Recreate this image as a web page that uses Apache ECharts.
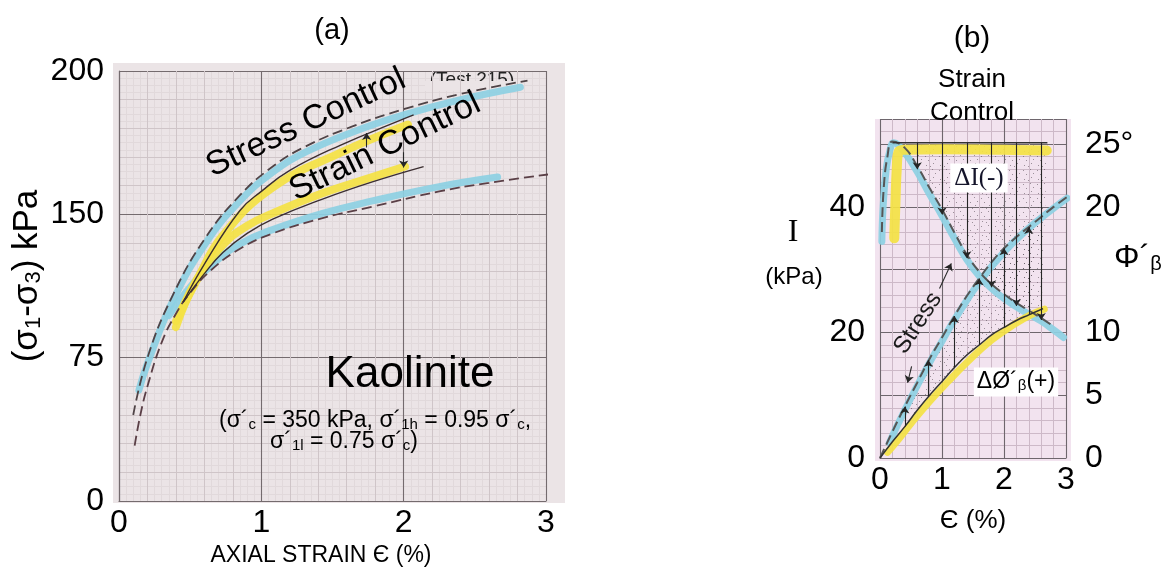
<!DOCTYPE html>
<html>
<head>
<meta charset="utf-8">
<script src="https://cdn.jsdelivr.net/npm/echarts@6/dist/echarts.min.js"></script>
<style>
  html, body { margin: 0; padding: 0; background: #ffffff; }
  #chart { width: 1175px; height: 570px; }
</style>
</head>
<body>
<div id="chart"></div>
<script>
// ---------- Panel (a): deviator stress vs axial strain (kaolinite) ----------
const strainTicksA = ['0', '1', '2', '3'];
const stressTicksA = ['0', '75', '150', '200'];

// [axial strain %, deviator stress kPa]
const stressCtrlHigh = [[0.1,45],[0.2,75],[0.38,108],[0.61,138],[0.85,160],[1.08,175],[1.31,185.5],[1.64,196],[2.0,205],[2.4,213],[2.87,220]];
const stressCtrlHighBand = [[0.14,58],[0.2,72],[0.38,105],[0.61,135],[0.85,157],[1.08,172],[1.31,182.5],[1.64,193],[2.0,202],[2.4,210],[2.82,216.5]];
const strainCtrlHigh = [[0.45,104],[0.6,124],[0.85,152],[1.0,162],[1.2,173],[1.55,186],[1.97,199],[2.07,202]];
const strainCtrlHighBand = [[0.4,94],[0.55,116],[0.73,139],[1.08,164],[1.55,182],[2.03,197]];
const strainCtrlLow = [[0.45,104],[0.6,119],[0.73,130],[0.9,140],[1.08,147.5],[1.43,158],[1.78,167],[2.14,175]];
const strainCtrlLowBand = [[0.4,91],[0.54,115],[0.73,134],[0.9,144],[1.08,150.5],[1.43,161],[1.78,169.5],[2.01,175]];
const stressCtrlLow = [[0.11,29],[0.15,45],[0.2,60],[0.3,83],[0.4,98],[0.5,109],[0.65,121],[0.85,132],[1.08,140],[1.43,148],[1.78,154],[2.25,162],[2.6,166.5],[3.03,171]];
const stressCtrlLowBand = [[0.35,97],[0.5,112],[0.65,123.5],[0.85,134.5],[1.08,142],[1.43,150.5],[1.78,157],[2.25,164.5],[2.66,169.5]];
// pointer arrows from the "Strain Control" label: [strain, from kPa, to kPa]
const labelArrowsA = [[1.74,185,192.5],[2.0,182.5,174.5]];

// ---------- Panel (b): I and mobilised friction angle vs strain ----------
const iTickLabels = ['0', '', '20', '', '40', ''];
const phiTickLabels = ['0', '5', '10', '', '20', '25°'];

// I (kPa)
const iStressLine = [[0.03,36],[0.06,43],[0.12,48],[0.2,50.4],[0.4,49.4],[0.6,46.5],[0.8,43],[1.0,39.6],[1.2,35.9],[1.4,32.4],[1.6,29.7],[1.8,27.7],[2.0,26.1],[2.2,24.7],[2.4,23.5],[2.6,22.3],[2.78,21.1]];
const iStressBand = [[0.03,34.5],[0.05,40],[0.1,46],[0.16,49],[0.22,50.2],[0.4,48.6],[0.6,45.6],[0.8,42],[1.0,38.6],[1.2,35],[1.4,31.6],[1.6,29],[1.8,27],[2.0,25.4],[2.2,24.1],[2.4,22.9],[2.6,21.8],[2.8,20.4],[2.96,19.2]];
const iStrainLine = [[0.2,50.2],[2.7,50.2]];
const iStrainBand = [[0.23,35],[0.25,41],[0.27,46],[0.3,48.8],[0.4,49.1],[1.0,49.2],[2.0,49.1],[2.69,49.0]];
// ΔI arrows: [strain, from kPa, to kPa]
const iArrows = [[0.6,50.2,46],[1.0,50.2,38.8],[1.4,50.2,31.8],[1.8,50.2,27.2],[2.2,50.2,24.2],[2.6,50.2,22]];

// Φ´β (degrees)
const phiStressLine = [[0,0],[0.2,2.1],[0.4,4.1],[0.6,6.0],[0.8,7.9],[1.0,9.6],[1.2,11.3],[1.4,12.9],[1.6,14.3],[1.8,15.6],[2.0,16.7],[2.2,17.6],[2.4,18.4],[2.6,19.2],[2.8,20.0],[3.02,20.8]];
const phiStressBand = [[0.15,1.2],[0.3,2.8],[0.5,4.8],[0.8,7.6],[1.0,9.3],[1.2,11.0],[1.6,14.0],[2.0,16.4],[2.4,18.3],[2.8,19.9],[3.02,20.7]];
const phiStrainLine = [[0,0],[0.2,1.3],[0.4,2.5],[0.6,3.8],[0.8,5.0],[1.0,6.1],[1.2,7.2],[1.4,8.2],[1.6,9.0],[1.8,9.8],[2.0,10.4],[2.2,10.95],[2.4,11.4],[2.63,11.9]];
const phiStrainBand = [[0.12,0.45],[0.3,1.5],[0.5,2.75],[0.8,4.5],[1.1,6.1],[1.4,7.6],[1.8,9.4],[2.2,10.75],[2.45,11.45],[2.65,11.85]];
// ΔΦ arrows: [strain, from deg, to deg]
const phiArrows = [[0.4,2.5,4.1],[0.78,4.9,7.8],[1.2,7.2,11.3],[1.6,9.0,14.3],[2.0,10.4,16.7],[2.4,11.4,18.4]];
// arrows from the "Stress" label: [[strain, kPa], [strain, kPa]]
const stressLabelArrows = [[[0.51,14.6],[0.445,12.0]], [[0.96,27.0],[1.15,31.0]]];

// ---------- styling ----------
const SANS = "'Liberation Sans', Arial, Helvetica, sans-serif";
const SERIF = "'Liberation Serif', 'Times New Roman', serif";
const BLUE = '#8dd0e3';
const YELLOW = '#f4e244';

// speckle tile used for the shaded Δ regions
function speckleTile() {
  const c = document.createElement('canvas');
  c.width = 14; c.height = 14;
  const g = c.getContext('2d');
  g.fillStyle = 'rgba(70,62,70,0.5)';
  [[1,2],[8,1],[4,6],[11,5],[2,11],[9,9],[6,12]].forEach(function (p) { g.fillRect(p[0], p[1], 1, 1); });
  return c;
}
const speckle = speckleTile();

function curve(data, xi, yi, color, width, dashed, z) {
  return {
    type: 'line', xAxisIndex: xi, yAxisIndex: yi, data: data,
    showSymbol: false, smooth: 0.45, clip: false, silent: true, z: z,
    lineStyle: { color: color, width: width, type: dashed ? [10, 5] : 'solid', cap: 'butt' }
  };
}
function band(data, xi, yi, color, width) {
  return {
    type: 'line', xAxisIndex: xi, yAxisIndex: yi, data: data,
    showSymbol: false, smooth: 0.45, clip: false, silent: true, z: 2,
    lineStyle: { color: color, width: width, opacity: 0.92, cap: 'round', join: 'round' }
  };
}
function arrows(list, xi, yi) {
  return {
    type: 'lines', coordinateSystem: 'cartesian2d', xAxisIndex: xi, yAxisIndex: yi,
    symbol: ['none', 'arrow'], symbolSize: 7, silent: true, z: 5,
    lineStyle: { color: '#262626', width: 1.1, opacity: 1, curveness: 0 },
    data: list
  };
}
function text(x, y, content, size, extra) {
  const el = {
    type: 'text', x: x, y: y, z: 100, silent: true,
    style: Object.assign({
      text: content, fontSize: size, fontFamily: SANS, fill: '#000',
      align: 'center', verticalAlign: 'middle', textAlign: 'center', textVerticalAlign: 'middle'
    }, extra && extra.style)
  };
  if (extra && extra.rotation) el.rotation = extra.rotation * Math.PI / 180;
  return el;
}
function subRich(size, subSize, family) {
  return {
    n: { fontSize: size, fontFamily: family || SANS, fill: '#000', color: '#000' },
    s: { fontSize: subSize, fontFamily: family || SANS, fill: '#000', color: '#000', verticalAlign: 'bottom', lineHeight: Math.round(subSize * 0.5) }
  };
}

const iRegion = [[0.45, 50.2], [2.7, 50.2]].concat(iStressBand.filter(function (p) { return p[0] >= 0.45 && p[0] <= 2.7; }).reverse());
const phiRegion = phiStressLine.filter(function (p) { return p[0] >= 0.3 && p[0] <= 2.6; })
  .concat(phiStrainLine.filter(function (p) { return p[0] >= 0.3 && p[0] <= 2.6; }).reverse());

function regionSeries(points, xi, yi) {
  return {
    type: 'custom', xAxisIndex: xi, yAxisIndex: yi, data: [0], silent: true, z: 1,
    renderItem: function (params, api) {
      return {
        type: 'polygon',
        shape: { points: points.map(function (p) { return api.coord(p); }), smooth: 0 },
        style: { fill: { image: speckle, repeat: 'repeat' } }
      };
    }
  };
}

const majorA = '#746b6e', midA = '#cfc5c8', fineA = '#e1d9db';
const majorB = '#6e666d', minorB = '#cdb9c8';

const option = {
  animation: false,
  backgroundColor: '#ffffff',
  grid: [
    { left: 119, top: 71, width: 427, height: 430, outerBoundsMode: 'none' },
    { left: 119, top: 71, width: 427, height: 430, outerBoundsMode: 'none' },
    { left: 880, top: 119, width: 186, height: 339, outerBoundsMode: 'none' }
  ],
  xAxis: [
    { type: 'value', gridIndex: 0, min: 0, max: 3, interval: 1, z: 1,
      axisLine: { show: true, lineStyle: { color: majorA, width: 1.2 } }, axisTick: { show: false },
      axisLabel: { fontSize: 32, fontFamily: SANS, color: '#000', margin: 6, formatter: function (v) { return strainTicksA[Math.round(v)]; } },
      splitLine: { show: true, lineStyle: { color: majorA, width: 1.1 } },
      minorTick: { show: false, splitNumber: 5 }, minorSplitLine: { show: true, lineStyle: { color: midA, width: 1 } } },
    { type: 'value', gridIndex: 1, min: 0, max: 3, interval: 0.2, z: 0,
      axisLine: { show: false }, axisTick: { show: false }, axisLabel: { show: false },
      splitLine: { show: true, lineStyle: { color: fineA, width: 1 } },
      minorTick: { show: false, splitNumber: 4 }, minorSplitLine: { show: true, lineStyle: { color: fineA, width: 1 } } },
    { type: 'value', gridIndex: 2, min: 0, max: 3, interval: 1, z: 1,
      axisLine: { show: true, lineStyle: { color: majorB, width: 1.2 } }, axisTick: { show: false },
      axisLabel: { fontSize: 32, fontFamily: SANS, color: '#000', margin: 6 },
      splitLine: { show: true, lineStyle: { color: majorB, width: 1.1 } },
      minorTick: { show: false, splitNumber: 5 }, minorSplitLine: { show: true, lineStyle: { color: minorB, width: 1 } },
      name: 'Є (%)', nameLocation: 'middle', nameGap: 50,
      nameTextStyle: { fontSize: 26, fontFamily: SANS, color: '#000' } }
  ],
  yAxis: [
    { type: 'value', gridIndex: 0, min: 0, max: 225, interval: 75, z: 1,
      axisLine: { show: true, lineStyle: { color: majorA, width: 1.2 } }, axisTick: { show: false },
      axisLabel: { fontSize: 32, fontFamily: SANS, color: '#000', margin: 15,
        formatter: function (v) { return stressTicksA[Math.round(v / 75)]; } },
      splitLine: { show: true, lineStyle: { color: majorA, width: 1.1 } },
      minorTick: { show: false, splitNumber: 5 }, minorSplitLine: { show: true, lineStyle: { color: midA, width: 1 } } },
    { type: 'value', gridIndex: 1, min: 0, max: 225, interval: 15, z: 0,
      axisLine: { show: false }, axisTick: { show: false }, axisLabel: { show: false },
      splitLine: { show: true, lineStyle: { color: fineA, width: 1 } },
      minorTick: { show: false, splitNumber: 4 }, minorSplitLine: { show: true, lineStyle: { color: fineA, width: 1 } } },
    { type: 'value', gridIndex: 2, min: 0, max: 54, interval: 10, z: 1, position: 'left',
      axisLine: { show: false }, axisTick: { show: false },
      axisLabel: { fontSize: 32, fontFamily: SANS, color: '#000', margin: 15,
        formatter: function (v) { const i = v / 10; return Number.isInteger(i) ? (iTickLabels[i] || '') : ''; } },
      splitLine: { show: true, lineStyle: { color: majorB, width: 1.1 } },
      minorTick: { show: false, splitNumber: 5 }, minorSplitLine: { show: true, lineStyle: { color: minorB, width: 1 } } },
    { type: 'value', gridIndex: 2, min: 0, max: 27, interval: 5, position: 'right',
      axisLine: { show: false }, axisTick: { show: false }, splitLine: { show: false },
      axisLabel: { fontSize: 32, fontFamily: SANS, color: '#000', margin: 19,
        formatter: function (v) { const i = v / 5; return Number.isInteger(i) ? (phiTickLabels[i] || '') : ''; } } }
  ],
  series: [
    // panel (a)
    band(stressCtrlHighBand, 0, 0, BLUE, 7),
    band(stressCtrlLowBand, 0, 0, BLUE, 7),
    band(strainCtrlHighBand, 0, 0, YELLOW, 8),
    band(strainCtrlLowBand, 0, 0, YELLOW, 8),
    curve(stressCtrlHigh, 0, 0, '#4f4346', 1.8, true, 3),
    curve(stressCtrlLow, 0, 0, '#5a3f46', 1.8, true, 3),
    curve(strainCtrlHigh, 0, 0, '#3b2e30', 1.4, false, 3),
    curve(strainCtrlLow, 0, 0, '#3b2e30', 1.4, false, 3),
    arrows(labelArrowsA.map(function (a) { return { coords: [[a[0], a[1]], [a[0], a[2]]] }; }), 0, 0),
    // panel (b)
    regionSeries(iRegion, 2, 2),
    regionSeries(phiRegion, 2, 3),
    band(iStressBand, 2, 2, BLUE, 7),
    band(iStrainBand, 2, 2, YELLOW, 10),
    band(phiStressBand, 2, 3, BLUE, 7),
    band(phiStrainBand, 2, 3, YELLOW, 7),
    curve(iStressLine, 2, 2, '#565656', 2, true, 3),
    curve(iStrainLine, 2, 2, '#333333', 1.5, false, 3),
    curve(phiStressLine, 2, 3, '#565656', 2, true, 3),
    curve(phiStrainLine, 2, 3, '#333333', 1.5, false, 3),
    arrows(iArrows.map(function (a) { return { coords: [[a[0], a[1]], [a[0], a[2]]] }; }), 2, 2),
    arrows(phiArrows.map(function (a) { return { coords: [[a[0], a[1]], [a[0], a[2]]] }; }), 2, 3),
    arrows(stressLabelArrows.map(function (a) { return { coords: a }; }), 2, 2)
  ],
  graphic: [
    // graph-paper backgrounds
    { type: 'rect', z: -100, silent: true, shape: { x: 113, y: 63, width: 452, height: 440 }, style: { fill: '#ebe4e6' } },
    { type: 'rect', z: -100, silent: true, shape: { x: 875, y: 119, width: 196, height: 342 }, style: { fill: '#f2e3ef' } },

    // panel (a) texts
    text(332, 31, '(a)', 29),
    { type: 'text', x: 27, y: 276, rotation: Math.PI / 2, z: 100, silent: true,
      style: { text: '{n|(σ}{s|1}{n|-σ}{s|3}{n|) kPa}', rich: subRich(35, 22),
        align: 'center', verticalAlign: 'middle', textAlign: 'center', textVerticalAlign: 'middle' } },
    text(306, 123, 'Stress Control', 34, { rotation: 25 }),
    text(385, 147, 'Strain Control', 34, { rotation: 26 }),
    { type: 'text', x: 472, y: 80, z: 1, silent: true,
      style: { text: '(Test 215)', fontSize: 19, fontFamily: SANS, fill: '#222', align: 'center', verticalAlign: 'middle', textAlign: 'center', textVerticalAlign: 'middle' } },
    { type: 'rect', z: 1, silent: true, shape: { x: 425, y: 81, width: 95, height: 10 }, style: { fill: '#ebe4e6' } },
    text(410, 375, 'Kaolinite', 44),
    { type: 'text', x: 375, y: 421, z: 100, silent: true,
      style: { text: '{n|(σ´}{s|c}{n| = 350 kPa, σ´}{s|1h}{n| = 0.95 σ´}{s|c}{n|,}', rich: subRich(23, 15),
        align: 'center', verticalAlign: 'middle', textAlign: 'center', textVerticalAlign: 'middle' } },
    { type: 'text', x: 344, y: 442, z: 100, silent: true,
      style: { text: '{n|σ´}{s|1l}{n| = 0.75 σ´}{s|c}{n|)}', rich: subRich(23, 15),
        align: 'center', verticalAlign: 'middle', textAlign: 'center', textVerticalAlign: 'middle' } },
    text(321, 556, 'AXIAL STRAIN Є (%)', 23),

    // panel (b) texts
    text(972, 39, '(b)', 30),
    text(972, 96, 'Strain\nControl', 26, { style: { lineHeight: 33 } }),
    text(793, 233, 'I', 32, { style: { fontFamily: SERIF } }),
    text(794, 277, '(kPa)', 24),
    { type: 'text', x: 1114, y: 258, z: 100, silent: true,
      style: { text: '{n|Φ´}{s|β}', rich: subRich(32, 20),
        align: 'left', verticalAlign: 'middle', textAlign: 'left', textVerticalAlign: 'middle' } },
    text(979, 178, 'ΔI(-)', 25, { style: { fontFamily: SERIF, fill: '#14142a', backgroundColor: '#ffffff', padding: [2, 4, 2, 4] } }),
    { type: 'text', x: 1016, y: 382, z: 100, silent: true,
      style: { text: '{n|ΔØ´}{s|β}{n|(+)}', rich: subRich(23, 15), backgroundColor: '#ffffff', padding: [3, 3, 3, 3],
        align: 'center', verticalAlign: 'middle', textAlign: 'center', textVerticalAlign: 'middle' } },
    text(918, 323, 'Stress', 24, { rotation: 57, style: { fill: '#1a1a1a' } })
  ]
};

const chart = echarts.init(document.getElementById('chart'));
chart.setOption(option);
</script>
</body>
</html>
